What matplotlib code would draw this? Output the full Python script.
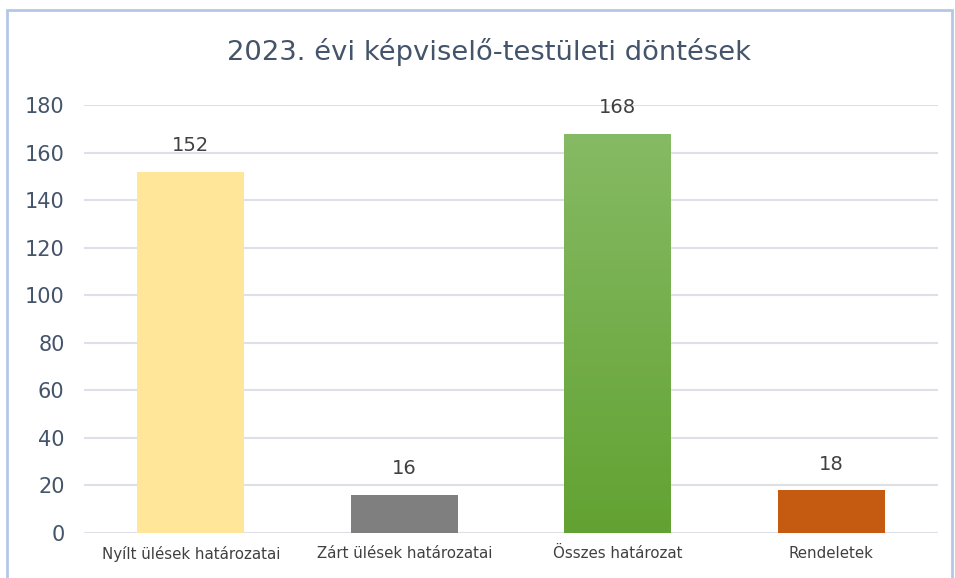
import matplotlib.pyplot as plt
import numpy as np
from matplotlib.patches import Rectangle
from matplotlib.colors import LinearSegmentedColormap

categories = ["Nyílt ülések határozatai", "Zárt ülések határozatai",
              "Összes határozat", "Rendeletek"]
values = [152, 16, 168, 18]
colors = ["#FFE699", "#7F7F7F", "#70AD47", "#C55A11"]

W, H = 955, 578
fig = plt.figure(figsize=(W / 100, H / 100), dpi=100)
ax = fig.add_axes([84 / W, 1 - 533 / H, 854 / W, 428 / H])

x = np.arange(len(categories))
bars = ax.bar(x, values, width=0.5, color=colors, zorder=2)

# gradient on the green bar
green = bars[2]
gx0, gy0 = green.get_x(), green.get_y()
gx1, gy1 = gx0 + green.get_width(), gy0 + green.get_height()
cmap = LinearSegmentedColormap.from_list("g", ["#62A232", "#86BA64"])
grad = np.linspace(0, 1, 256).reshape(-1, 1)
im = ax.imshow(grad, cmap=cmap, aspect="auto", origin="lower",
               extent=[gx0, gx1, gy0, gy1], zorder=3)
im.set_clip_path(green)

ax.set_xlim(-0.5, len(categories) - 0.5)
ax.set_ylim(0, 180)
ax.set_yticks(range(0, 181, 20))
ax.set_xticks(x)
ax.set_xticklabels(categories, fontsize=10.8, color="#404040")
ax.tick_params(axis="y", labelsize=15, labelcolor="#44546A", length=0, pad=14)
ax.tick_params(axis="x", length=0, pad=9)
ax.grid(axis="y", color="#DDE0E6", lw=1.5, zorder=0)
for s in ax.spines.values():
    s.set_visible(False)

for xi, v in zip(x, values):
    ax.annotate(str(v), (xi, v), xytext=(0, 12), textcoords="offset points",
                ha="center", va="bottom", fontsize=14, color="#404040")

fig.text(489 / W, 1 - 52 / H, "2023. évi képviselő-testületi döntések",
         ha="center", va="center", fontsize=19.7, color="#44546A")

fig.patches.append(Rectangle((7 / W, -0.05), 945 / W, 1 - 10 / H + 0.05,
                             transform=fig.transFigure, fill=False,
                             edgecolor="#B4C7E7", lw=2))

fig.savefig("out.png", dpi=100)
